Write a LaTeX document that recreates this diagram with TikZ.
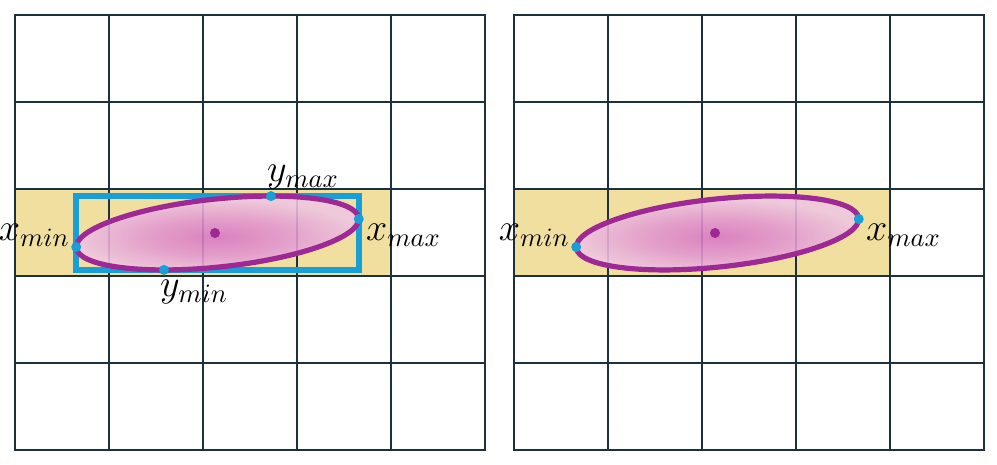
\documentclass[tikz,border=0pt]{standalone}
\usepackage{graphicx}
\definecolor{gridc}{RGB}{28,48,62}
\definecolor{band}{RGB}{241,223,160}
\definecolor{bboxc}{RGB}{24,160,214}
\definecolor{ell}{RGB}{158,40,148}
\definecolor{ellin}{RGB}{216,118,196}
\definecolor{ellmid}{RGB}{226,150,208}
\definecolor{ellout}{RGB}{238,198,226}
\pgfdeclareradialshading{ellshading}{\pgfpoint{0bp}{0bp}}{color(0bp)=(ellin); color(12bp)=(ellmid); color(25bp)=(ellout); color(50bp)=(ellout)}
\newcommand{\biglab}[1]{\scalebox{2.65}{\Large$#1$}}
\tikzset{
  gridline/.style={draw=gridc, line width=1.6},
  bandfill/.style={fill=band},
  ellshade/.style={shading=ellshading, fill opacity=0.88},
  ellline/.style={draw=ell, line width=5.2},
  boxline/.style={draw=bboxc, line width=6},
  bdot/.style={circle, fill=bboxc, inner sep=0pt, minimum size=10},
  cdot/.style={circle, fill=ell, inner sep=0pt, minimum size=10},
  lab/.style={inner sep=0pt},
}
\begin{document}
\begin{tikzpicture}[x=1pt, y=-1pt]
\useasboundingbox (0,0) rectangle (997,465);
% ---------- left panel ----------
\begin{scope}
  \fill[bandfill] (15,189) rectangle (391,276);
  \foreach \i in {1,...,4} \draw[gridline] ({15+94*\i},15) -- ({15+94*\i},450);
  \foreach \j in {1,...,4} \draw[gridline] (15,{15+87*\j}) -- (485,{15+87*\j});
  \draw[gridline] (15,15) rectangle (485,450);
  \coordinate (Lxmin) at (76.2,247);
  \coordinate (Lxmax) at (358.8,219);
  \coordinate (Lymax) at (271,196.1);
  \coordinate (Lymin) at (164,269.9);
  \draw[boxline] (Lxmin |- Lymax) rectangle (Lxmax |- Lymin);
  \shade[ellshade, rotate around={6:(217.5,233)}] (217.5,233) ellipse [x radius=142, y radius=34];
  \draw[ellline, rotate around={6:(217.5,233)}] (217.5,233) ellipse [x radius=142, y radius=34];
  \node[cdot] (Lc) at (215,233) {};
  \node[bdot] (Lpxmin) at (Lxmin) {};
  \node[bdot] (Lpxmax) at (Lxmax) {};
  \node[bdot] (Lpymax) at (Lymax) {};
  \node[bdot] (Lpymin) at (Lymin) {};
  \node[lab, anchor=base east] (Llxmin) at (70,241) {\biglab{x_{min}}};
  \node[lab, anchor=base west] (Llxmax) at (366,241) {\biglab{x_{max}}};
  \node[lab, anchor=base west] (Llymax) at (267,182) {\biglab{y_{max}}};
  \node[lab, anchor=base west] (Llymin) at (160,297) {\biglab{y_{min}}};
\end{scope}
% ---------- right panel ----------
\begin{scope}
  \fill[bandfill] (514,189) rectangle (890,276);
  \foreach \i in {1,...,4} \draw[gridline] ({514+94*\i},15) -- ({514+94*\i},450);
  \foreach \j in {1,...,4} \draw[gridline] (514,{15+87*\j}) -- (984,{15+87*\j});
  \draw[gridline] (514,15) rectangle (984,450);
  \coordinate (Rxmin) at (576.2,247);
  \coordinate (Rxmax) at (858.8,219);
  \shade[ellshade, rotate around={6:(717.5,233)}] (717.5,233) ellipse [x radius=142, y radius=34];
  \draw[ellline, rotate around={6:(717.5,233)}] (717.5,233) ellipse [x radius=142, y radius=34];
  \node[cdot] (Rc) at (715,233) {};
  \node[bdot] (Rpxmin) at (Rxmin) {};
  \node[bdot] (Rpxmax) at (Rxmax) {};
  \node[lab, anchor=base east] (Rlxmin) at (570,241) {\biglab{x_{min}}};
  \node[lab, anchor=base west] (Rlxmax) at (866,241) {\biglab{x_{max}}};
\end{scope}
\end{tikzpicture}
\end{document}
